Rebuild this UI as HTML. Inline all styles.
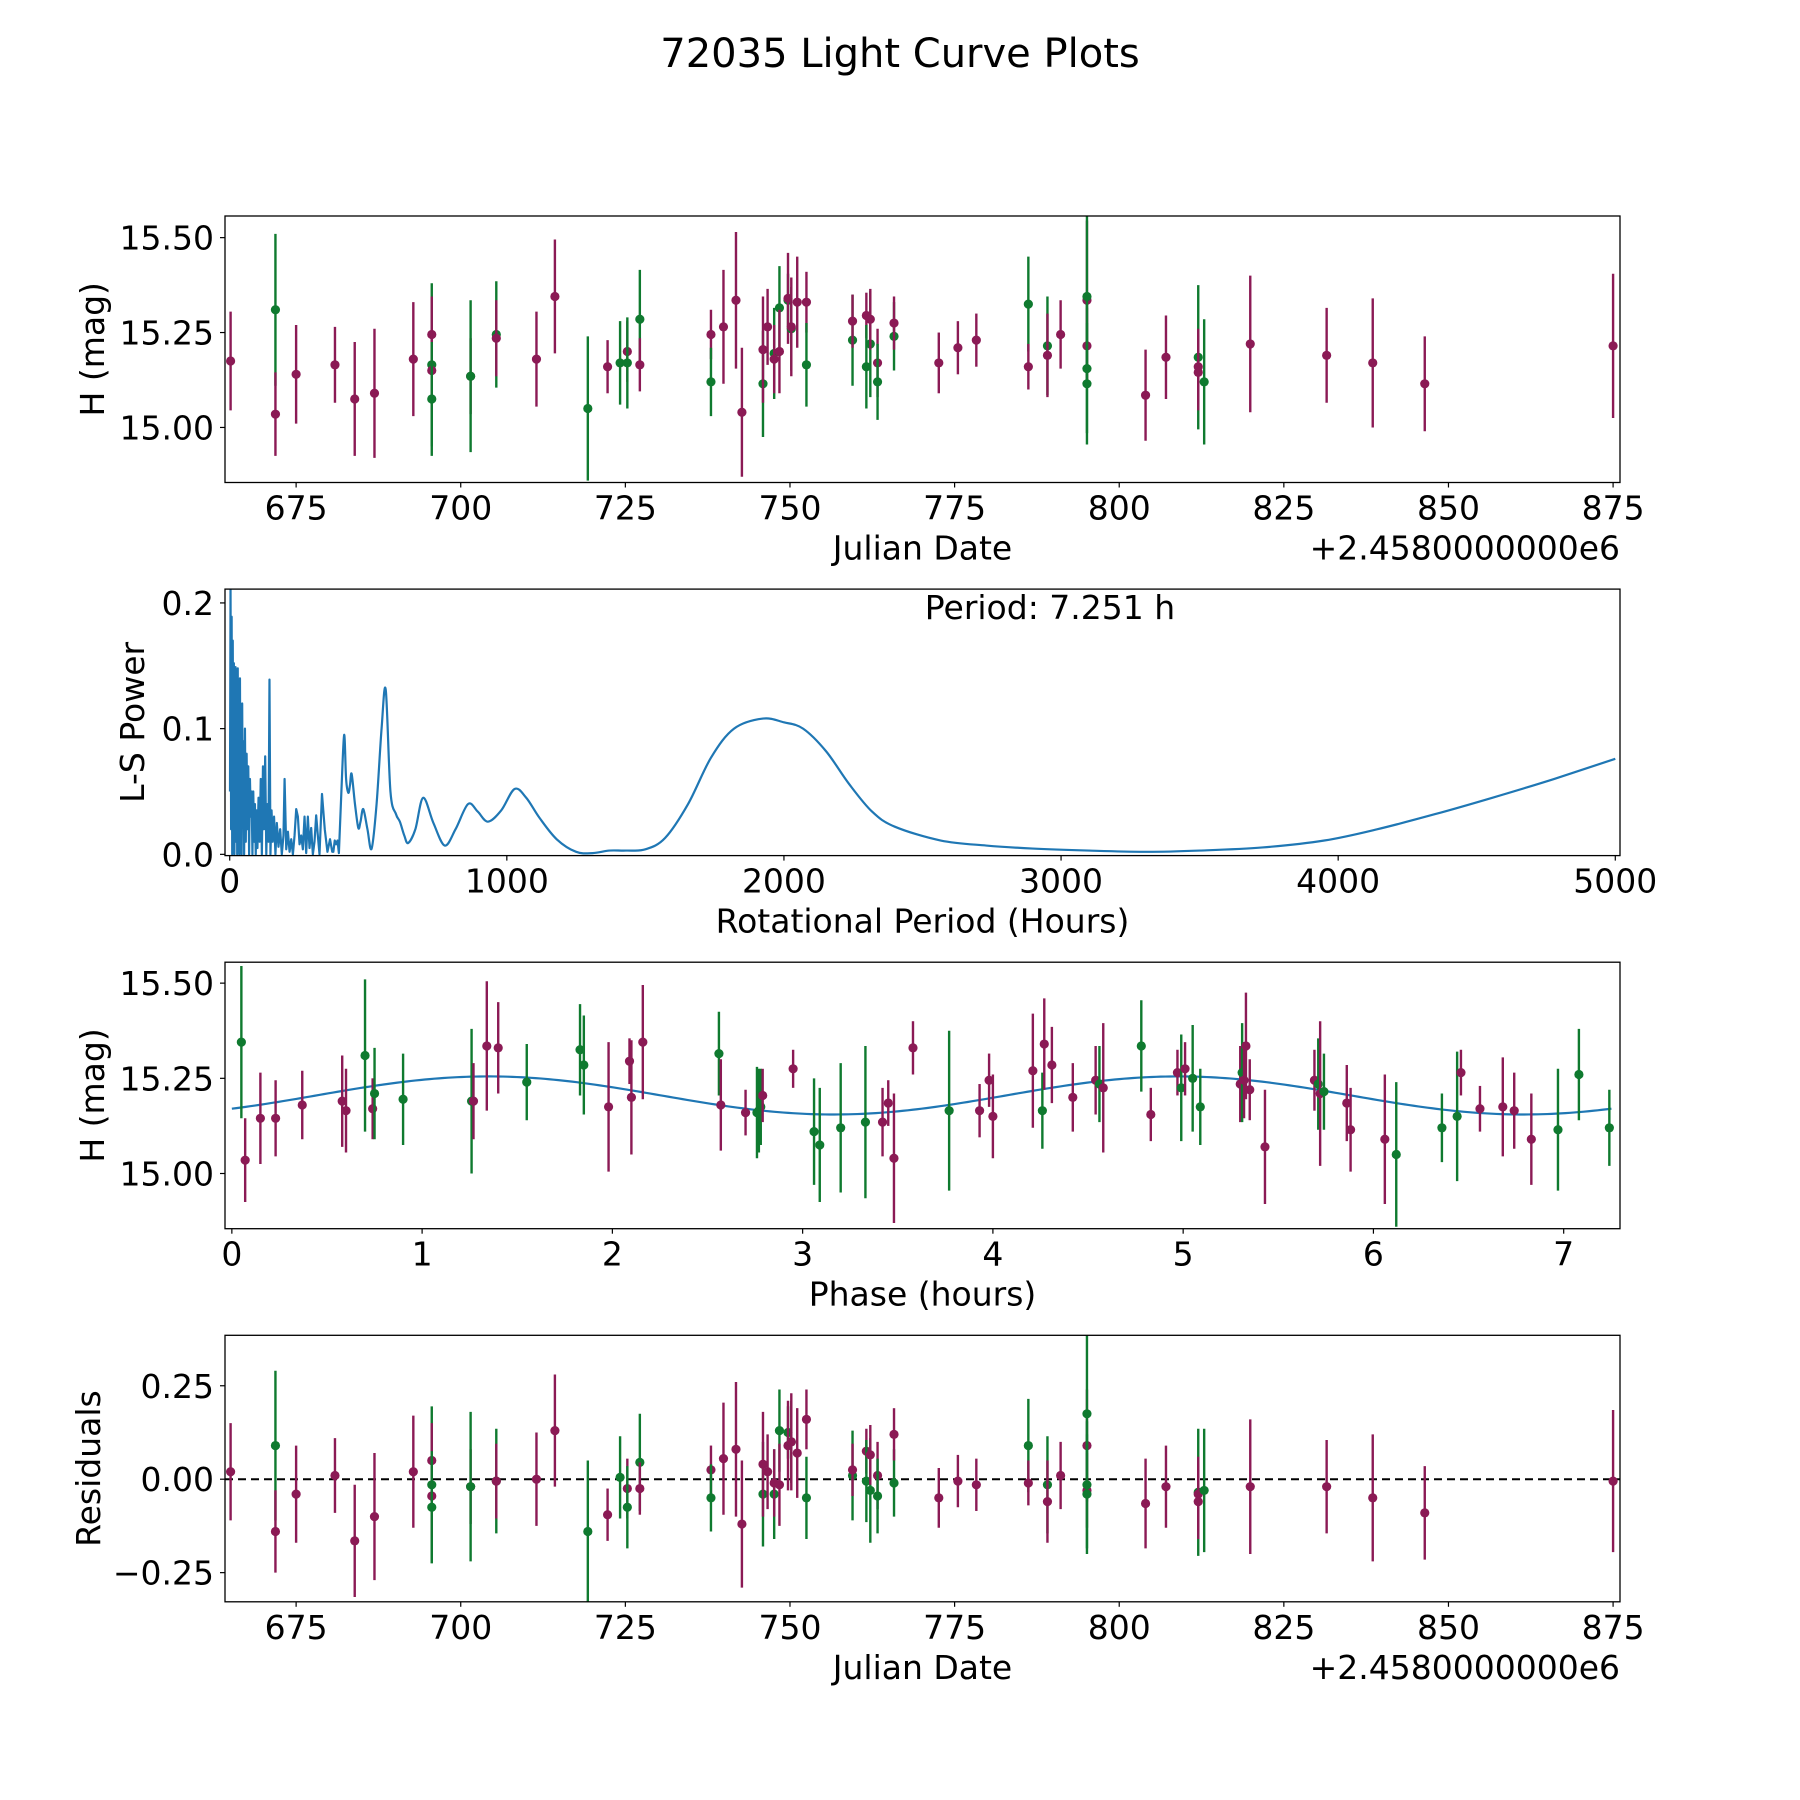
<!DOCTYPE html>
<html><head><meta charset="utf-8"><style>
html,body{margin:0;padding:0;background:#fff;}
svg{display:block;font-family:"DejaVu Sans","Liberation Sans",sans-serif;}
</style></head><body>
<svg id="fig" width="1800" height="1800" viewBox="0 0 1800 1800" xmlns="http://www.w3.org/2000/svg">
<rect width="1800" height="1800" fill="#fff"/>
<text x="900" y="67" font-size="40" text-anchor="middle">72035 Light Curve Plots</text>
</svg>
<script>
// Observation arrays (date, magnitude, error, residual, band)
const date = [665.05,671.86,671.86,675,680.9,683.9,686.9,692.8,695.6,695.6,695.6,695.6,701.5,701.5,705.4,705.4,711.5,714.3,719.3,722.3,724.2,725.3,725.3,727.2,727.2,738,738,739.9,741.8,742.7,745.9,745.9,746.6,747.6,747.6,748.4,748.4,749.7,749.7,750.2,750.2,751.1,752.5,752.5,759.5,759.5,761.6,761.6,762.2,762.2,763.3,763.3,765.8,765.8,772.6,775.5,778.3,786.2,786.2,789.1,789.1,791.1,795.1,795.1,795.1,795.1,795.1,804,807.1,812,812,812,812.9,819.9,831.5,838.5,846.4,875];
const band = ['m','g','m','m','m','m','m','m','g','m','m','g','m','g','g','m','m','m','g','m','g','m','g','g','m','m','g','m','m','m','g','m','m','g','m','g','m','g','m','g','m','m','m','g','g','m','m','g','g','m','m','g','g','m','m','m','m','g','m','g','m','m','m','g','m','g','g','m','m','g','m','m','g','m','m','m','m','m'];
const mag = [15.175,15.31,15.035,15.14,15.165,15.075,15.09,15.18,15.165,15.245,15.15,15.075,15.135,15.135,15.245,15.235,15.18,15.345,15.05,15.16,15.17,15.2,15.17,15.285,15.165,15.245,15.12,15.265,15.335,15.04,15.115,15.205,15.265,15.195,15.18,15.315,15.2,15.335,15.34,15.26,15.265,15.33,15.33,15.165,15.23,15.28,15.295,15.16,15.22,15.285,15.17,15.12,15.24,15.275,15.17,15.21,15.23,15.325,15.16,15.215,15.19,15.245,15.335,15.345,15.215,15.155,15.115,15.085,15.185,15.185,15.16,15.145,15.12,15.22,15.19,15.17,15.115,15.215];
const magErr = [0.13,0.2,0.11,0.13,0.1,0.15,0.17,0.15,0.215,0.1,0.11,0.15,0.1,0.2,0.14,0.1,0.125,0.15,0.19,0.07,0.11,0.08,0.12,0.13,0.07,0.065,0.09,0.15,0.18,0.17,0.14,0.14,0.1,0.12,0.09,0.11,0.11,0.07,0.12,0.11,0.13,0.12,0.08,0.11,0.12,0.07,0.06,0.11,0.14,0.08,0.09,0.1,0.09,0.07,0.08,0.07,0.07,0.125,0.06,0.13,0.11,0.09,0.21,0.22,0.1,0.17,0.16,0.12,0.11,0.19,0.1,0.1,0.165,0.18,0.125,0.17,0.125,0.19];
const resid = [0.02,0.09,-0.14,-0.04,0.01,-0.165,-0.1,0.02,-0.015,0.05,-0.045,-0.075,-0.02,-0.02,-0.005,-0.005,0,0.13,-0.14,-0.095,0.005,-0.025,-0.075,0.045,-0.025,0.025,-0.05,0.055,0.08,-0.12,-0.04,0.04,0.02,-0.04,-0.01,0.13,-0.015,0.125,0.09,0.1,0.1,0.07,0.16,-0.05,0.01,0.025,0.075,-0.005,-0.03,0.065,0.01,-0.045,-0.01,0.12,-0.05,-0.005,-0.015,0.09,-0.01,-0.015,-0.06,0.01,0.09,0.175,-0.03,-0.015,-0.04,-0.065,-0.02,-0.035,-0.04,-0.06,-0.03,-0.02,-0.02,-0.05,-0.09,-0.005];
const residErr = [0.13,0.2,0.11,0.13,0.1,0.15,0.17,0.15,0.21,0.1,0.11,0.15,0.1,0.2,0.14,0.1,0.125,0.15,0.19,0.07,0.11,0.08,0.11,0.13,0.07,0.065,0.09,0.15,0.18,0.17,0.14,0.14,0.1,0.12,0.09,0.11,0.11,0.07,0.12,0.11,0.13,0.12,0.08,0.11,0.12,0.07,0.06,0.11,0.14,0.08,0.09,0.1,0.09,0.07,0.08,0.07,0.07,0.125,0.06,0.13,0.11,0.09,0.15,0.21,0.1,0.17,0.16,0.12,0.11,0.17,0.1,0.1,0.165,0.18,0.125,0.17,0.125,0.19];

// Phase-folded data
const phase = [0.05,0.07,0.15,0.23,0.37,0.58,0.6,0.7,0.74,0.75,0.9,1.26,1.27,1.34,1.4,1.55,1.83,1.85,1.98,2.09,2.1,2.16,2.56,2.57,2.7,2.77,2.78,2.79,2.76,2.95,3.06,3.09,3.2,3.33,3.42,3.45,3.48,3.58,3.77,3.93,3.98,4.0,4.21,4.26,4.27,4.31,4.42,4.54,4.56,4.58,4.78,4.83,4.97,4.99,5.01,5.05,5.09,5.3,5.31,5.32,5.33,5.35,5.43,5.69,5.71,5.72,5.74,5.86,5.88,6.06,6.12,6.36,6.44,6.46,6.56,6.68,6.74,6.83,6.97,7.08,7.24];
const phaseBand = ['g','m','m','m','m','m','m','g','m','g','g','g','m','m','m','g','g','g','m','m','m','m','g','m','m','g','g','m','g','m','g','g','g','g','m','m','m','m','g','m','m','m','m','g','m','m','m','m','g','m','g','m','m','g','m','g','g','m','g','m','m','m','m','m','g','m','g','m','m','m','g','g','g','m','m','m','m','m','g','g','g'];
const phaseMag = [15.345,15.035,15.145,15.145,15.18,15.19,15.165,15.31,15.17,15.21,15.195,15.19,15.19,15.335,15.33,15.24,15.325,15.285,15.175,15.295,15.2,15.345,15.315,15.18,15.16,15.165,15.175,15.205,15.16,15.275,15.11,15.075,15.12,15.135,15.135,15.185,15.04,15.33,15.165,15.165,15.245,15.15,15.27,15.165,15.34,15.285,15.2,15.245,15.235,15.225,15.335,15.155,15.265,15.225,15.275,15.25,15.175,15.235,15.265,15.245,15.335,15.22,15.07,15.245,15.235,15.21,15.215,15.185,15.115,15.09,15.05,15.12,15.15,15.265,15.17,15.175,15.165,15.09,15.115,15.26,15.12];
const phaseErr = [0.2,0.11,0.12,0.1,0.09,0.12,0.11,0.2,0.08,0.12,0.12,0.19,0.1,0.17,0.12,0.1,0.12,0.13,0.17,0.06,0.15,0.15,0.11,0.12,0.06,0.11,0.1,0.07,0.12,0.05,0.14,0.15,0.17,0.2,0.09,0.06,0.17,0.07,0.21,0.07,0.07,0.11,0.15,0.1,0.12,0.1,0.09,0.09,0.1,0.17,0.12,0.07,0.06,0.14,0.07,0.14,0.1,0.1,0.13,0.1,0.14,0.08,0.15,0.08,0.12,0.19,0.1,0.1,0.11,0.17,0.19,0.09,0.17,0.06,0.06,0.13,0.1,0.12,0.16,0.12,0.1];
// Fitted model: [mean, amplitude, peakPhase, period]
const modelCoef = [15.205, 0.05, 1.35, 7.251];

// Periodogram
const lsPeriod = [1,3,5,7,9,11,13,15,17,19,21,23,25,27,29,31,33,35,37,39,41,43,45,47,49,52,55,58,61,64,67,70,73,76,79,82,85,88,91,94,97,100,104,108,112,116,120,124,128,132,136,140,143.5,147,151,155,160,165,170,176,182,188,194,198,204,210,216,222,228,234,240,246,252,258,264,270,276,282,288,294,300,306,312,318,324,333,343,352.7,362,370,374,379,384,389,394,403,413,420,428,434,440,452,464,472,482,497,512,530,548,563,580,600,614,630,644,670,698,735,776,815,860,895,932,980,1028,1070,1118,1180,1250,1310,1370,1430,1500,1571,1654,1737,1820,1924,2000,2069,2152,2235,2318,2400,2566,2730,2898,3100,3313,3500,3727,3950,4142,4350,4556,4780,5000];
const lsPower = [0.05,0.213,0.02,0.189,0.0,0.17,0.03,0.152,0.0,0.12,0.149,0.01,0.13,0.0,0.148,0.04,0.11,0.0,0.14,0.02,0.1,0.0,0.12,0.03,0.09,0.0,0.1,0.01,0.08,0.02,0.07,0.0,0.06,0.03,0.05,0.0,0.05,0.01,0.04,0.0,0.035,0.005,0.045,0.01,0.06,0.0,0.07,0.02,0.078,0.0,0.04,0.01,0.139,0.0,0.035,0.01,0.03,0.0,0.025,0.006,0.02,0.0,0.015,0.06,0.004,0.018,0.002,0.012,0.0,0.015,0.036,0.03,0.008,0.015,0.004,0.03,0.001,0.03,0.005,0.021,0.0,0.01,0.031,0.015,0.0,0.048,0.02,0.002,0.012,0.002,0.002,0.011,0.008,0.011,0.001,0.05,0.095,0.06,0.049,0.055,0.064,0.04,0.021,0.026,0.036,0.02,0.0045,0.04,0.1,0.131,0.05,0.032,0.026,0.015,0.009,0.02,0.045,0.025,0.007,0.02,0.04,0.034,0.026,0.035,0.052,0.045,0.029,0.012,0.002,0.001,0.003,0.003,0.004,0.013,0.04,0.077,0.1,0.108,0.105,0.1,0.082,0.056,0.034,0.022,0.011,0.007,0.0046,0.003,0.002,0.003,0.0055,0.011,0.02,0.032,0.045,0.06,0.076];

const xTickDate = ['675','700','725','750','775','800','825','850','875'];
const yTickMag = ['15.00','15.25','15.50'];
const xTickLS = ['0','1000','2000','3000','4000','5000'];
const yTickLS = ['0.0','0.1','0.2'];
const xTickPhase = ['0','1','2','3','4','5','6','7'];
const yTickRes = ['\u22120.25','0.00','0.25'];

const NS='http://www.w3.org/2000/svg';
const svg=document.getElementById('fig');
const COL={m:'#8b1a55',g:'#0f7a2f'};
const L=225,W=1395,H=266.5;
const FS=33;
const TOPS=[216,589.1,962.2,1335.3];
function el(tag,attrs,parent){const e=document.createElementNS(NS,tag);for(const k in attrs)e.setAttribute(k,attrs[k]);(parent||svg).appendChild(e);return e;}
function num(s){return parseFloat(s.replace('\u2212','-'));}
function makePanel(i,xr,yr,name){
  const top=TOPS[i];
  const g=el('g',{});
  
  
  const clipId='clip'+i;
  const cp=el('clipPath',{id:clipId},g);el('rect',{x:L,y:top,width:W,height:H},cp);
  const sx=v=>L+(v-xr[0])/(xr[1]-xr[0])*W;
  const sy=v=>top+H-(v-yr[0])/(yr[1]-yr[0])*H;
  const plot=el('g',{'clip-path':'url(#'+clipId+')'},g);
  return {g,plot,sx,sy,top};
}
function axes(p,xt,yt,xlabel,ylabel,ylx,offset){
  const b=p.top+H;
  el('rect',{x:L,y:p.top,width:W,height:H,fill:'none',stroke:'#000','stroke-width':1.3},p.g);
  xt.forEach(t=>{const x=p.sx(num(t));
    el('line',{x1:x,x2:x,y1:b,y2:b+5,stroke:'#000','stroke-width':1.2},p.g);
    const tx=el('text',{x:x,y:b+37,'font-size':FS,'text-anchor':'middle'},p.g);tx.textContent=t;
    
    });
  yt.forEach(t=>{const y=p.sy(num(t));
    el('line',{x1:L-5,x2:L,y1:y,y2:y,stroke:'#000','stroke-width':1.2},p.g);
    const tx=el('text',{x:L-11,y:y+12,'font-size':FS,'text-anchor':'end'},p.g);tx.textContent=t;
    
    });
  const xl=el('text',{x:L+W/2,y:b+77,'font-size':FS,'text-anchor':'middle'},p.g);xl.textContent=xlabel;
  
  
  const yl=el('text',{x:ylx,y:p.top+H/2,'font-size':FS,'text-anchor':'middle',transform:'rotate(-90 '+ylx+' '+(p.top+H/2)+')'},p.g);yl.textContent=ylabel;
  
  
  if(offset){const o=el('text',{x:L+W,y:b+77,'font-size':FS,'text-anchor':'end'},p.g);o.textContent=offset;
    
    }
}
function errbars(p,xs,ys,es,bs){
  for(let k=0;k<xs.length;k++){
    const x=p.sx(xs[k]),c=COL[bs[k]];
    const ln=el('line',{x1:x,x2:x,y1:p.sy(ys[k]-es[k]),y2:p.sy(ys[k]+es[k]),stroke:c,'stroke-width':2.4},p.plot);
    
    
    const d=el('circle',{cx:x,cy:p.sy(ys[k]),r:4.6,fill:c},p.plot);
    
    
  }
}
const dateR=[664.2,876.05];
// Panel 1
const p1=makePanel(0,dateR,[14.855,15.557],'raw-light-curve-panel');
errbars(p1,date,mag,magErr,band);
axes(p1,xTickDate,yTickMag,'Julian Date','H (mag)',104,'+2.4580000000e6');
// Panel 2
const p2=makePanel(1,[-17,5017],[-0.001,0.211],'periodogram-panel');
const P=lsPeriod.map((v,k)=>[p2.sx(v),p2.sy(lsPower[k])]);
let d='M'+P[0][0].toFixed(2)+' '+P[0][1].toFixed(2);
for(let k=1;k<P.length;k++){
  if(lsPeriod[k-1]>=400 && k>=2 && k<P.length-1){
    const p0=P[k-2],a=P[k-1],b=P[k],p3=P[k+1];
    const c1=[a[0]+(b[0]-p0[0])/6,a[1]+(b[1]-p0[1])/6];
    const c2=[b[0]-(p3[0]-a[0])/6,b[1]-(p3[1]-a[1])/6];
    d+='C'+c1[0].toFixed(2)+' '+c1[1].toFixed(2)+' '+c2[0].toFixed(2)+' '+c2[1].toFixed(2)+' '+b[0].toFixed(2)+' '+b[1].toFixed(2);
  } else d+='L'+P[k][0].toFixed(2)+' '+P[k][1].toFixed(2);
}
const pl=el('path',{d:d,fill:'none',stroke:'#1f77b4','stroke-width':2.2,'stroke-linejoin':'round'},p2.plot);


axes(p2,xTickLS,yTickLS,'Rotational Period (Hours)','L-S Power',144);
const pt=el('text',{x:1050,y:619,'font-size':FS,'text-anchor':'middle'},p2.g);pt.textContent='Period: 7.251 h';


// Panel 3
const p3=makePanel(2,[-0.036,7.296],[14.855,15.555],'phase-folded-panel');
let dm='';for(let k=0;k<=300;k++){const ph=modelCoef[3]*k/300;const v=modelCoef[0]+modelCoef[1]*Math.cos(4*Math.PI*(ph-modelCoef[2])/modelCoef[3]);dm+=(k?'L':'M')+p3.sx(ph).toFixed(2)+' '+p3.sy(v).toFixed(2);}
const ml=el('path',{d:dm,fill:'none',stroke:'#1f77b4','stroke-width':2.2},p3.plot);


errbars(p3,phase,phaseMag,phaseErr,phaseBand);
axes(p3,xTickPhase,yTickMag,'Phase (hours)','H (mag)',104);
// Panel 4
const p4=makePanel(3,dateR,[-0.328,0.385],'residuals-panel');
const zl=el('line',{x1:L,x2:L+W,y1:p4.sy(0),y2:p4.sy(0),stroke:'#000','stroke-width':2,'stroke-dasharray':'8,5'},p4.plot);


errbars(p4,date,resid,residErr,band);
axes(p4,xTickDate,yTickRes,'Julian Date','Residuals',100,'+2.4580000000e6');
</script>
</body></html>
